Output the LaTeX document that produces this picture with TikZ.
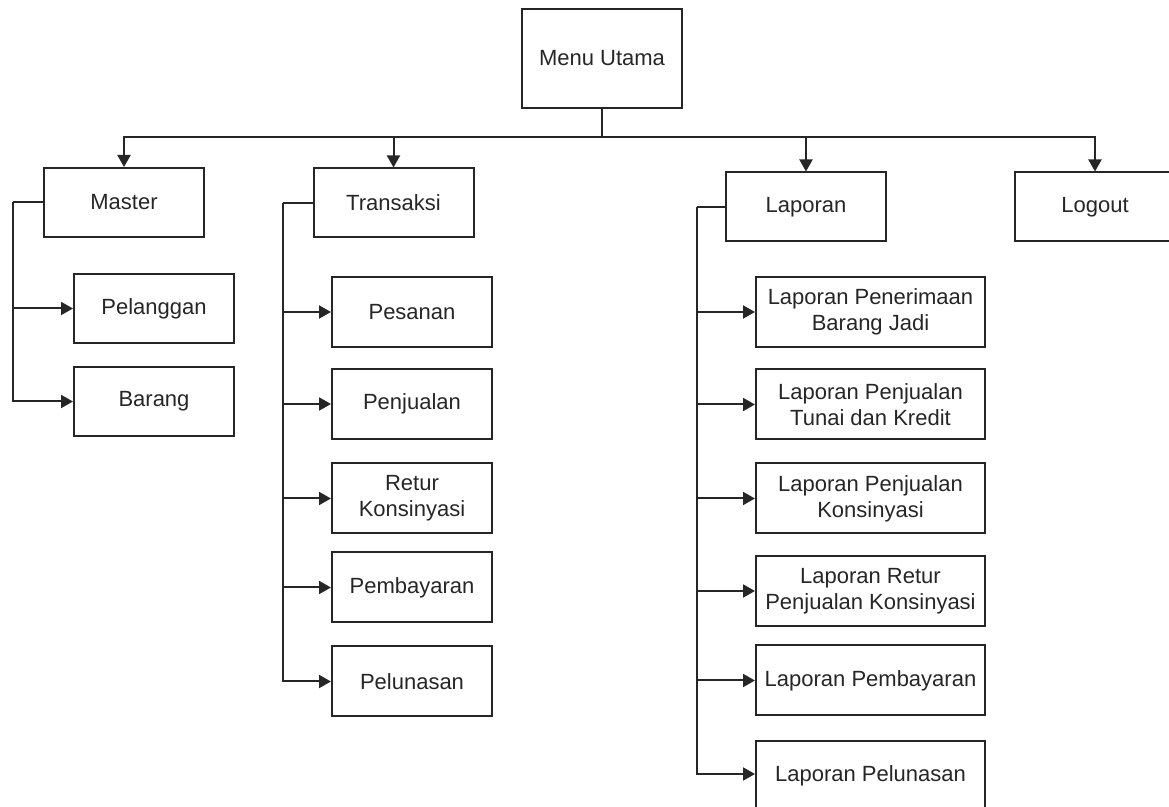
\documentclass[tikz,border=0pt]{standalone}
\usepackage{fontspec}
\setmainfont{Liberation Sans}
\usetikzlibrary{
    arrows.meta,
    positioning
}
\tikzset{
    menubox/.style={draw=black!85, line width=1pt, text=black!85, minimum width=80pt, minimum height=34.5pt,
        inner sep=0pt, align=center, font=\fontsize{11}{13}\selectfont},
    lapbox/.style={menubox, minimum width=114.5pt, minimum height=35pt},
    line/.style={draw=black!85, line width=1pt},
    link/.style={line, -{Triangle[length=6pt,width=6.5pt]}}
}

\begin{document}
\begin{tikzpicture}[x=0.5pt, y=-0.5pt]
    \useasboundingbox (0,0) rectangle (1169,807);
    \clip (0,0) rectangle (1169,807);

    \node[menubox, minimum height=49.5pt] (menu) at (602,58.5) {Menu Utama};
    \node[menubox] (master) at (124,202.5) {Master};
    \node[menubox] (transaksi) at (393.5,203) {Transaksi};
    \node[menubox] (laporan) at (806,207) {Laporan};
    \node[menubox] (logout) at (1095,207) {Logout};

    % master
    \node[menubox] (pelanggan) at (154,308.5) {Pelanggan};
    \node[menubox] (barang) at (154,401.5) {Barang};

    % transaksi
    \node[menubox, minimum height=35pt] (pesanan) at (412,312) {Pesanan};
    \node[menubox, minimum height=35pt] (penjualan) at (412,404) {Penjualan};
    \node[menubox, minimum height=35pt] (retur) at (412,498.5) {Retur\\Konsinyasi};
    \node[menubox, minimum height=35pt] (pembayaran) at (412,587.5) {Pembayaran};
    \node[menubox, minimum height=35pt] (pelunasan) at (412,681.5) {Pelunasan};

    % laporan
    \node[lapbox] (lpenerimaan) at (870.5,312) {Laporan Penerimaan\\Barang Jadi};
    \node[lapbox] (lpenjualan) at (870.5,404.5) {Laporan Penjualan\\Tunai dan Kredit};
    \node[lapbox] (lkonsinyasi) at (870.5,498.5) {Laporan Penjualan\\Konsinyasi};
    \node[lapbox] (lretur) at (870.5,591) {Laporan Retur\\Penjualan Konsinyasi};
    \node[lapbox] (lpembayaran) at (870.5,680.5) {Laporan Pembayaran};
    \node[lapbox] (lpelunasan) at (870.5,776) {Laporan Pelunasan};

    \coordinate (bus) at (602,137);
    \coordinate (mbranch) at (13,202.5);
    \coordinate (tbranch) at (283,203);
    \coordinate (lbranch) at (696.5,207);

    \draw[line] (menu.south) -- (bus);
    \draw[link] (bus) -| (master.north);
    \draw[link] (bus) -| (transaksi.north);
    \draw[link] (bus) -| (laporan.north);
    \draw[link] (bus) -| (logout.north);

    \draw[line] (master.west) -- (mbranch);
    \draw[link] (mbranch) |- (pelanggan.west);
    \draw[link] (mbranch) |- (barang.west);

    \draw[line] (transaksi.west) -- (tbranch);
    \foreach \n in {pesanan, penjualan, retur, pembayaran, pelunasan}
        \draw[link] (tbranch) |- (\n.west);

    \draw[line] (laporan.west) -- (lbranch);
    \foreach \n in {lpenerimaan, lpenjualan, lkonsinyasi, lretur, lpembayaran}
        \draw[link] (lbranch) |- (\n.west);
    \draw[link] (lbranch) |- ([yshift=1pt]lpelunasan.west);
\end{tikzpicture}
\end{document}
